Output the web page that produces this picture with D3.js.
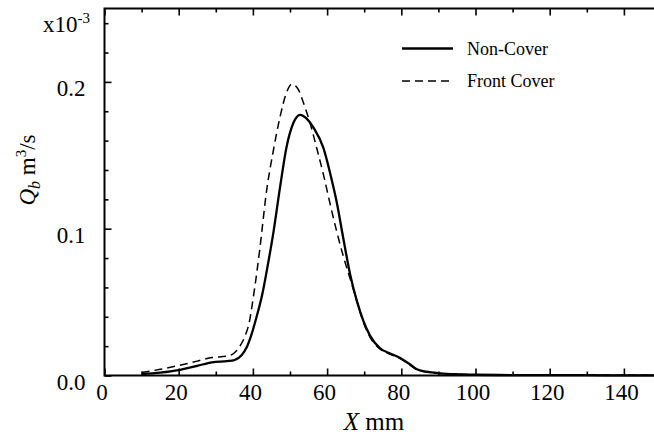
<!DOCTYPE html>
<html><head><meta charset="utf-8">
<script src="https://cdn.jsdelivr.net/npm/d3@7"></script>
<style>body{margin:0;background:#fff}svg{display:block}</style>
</head><body><svg id="c" width="654" height="434"></svg>
<script>
const xMajor = [0, 20, 40, 60, 80, 100, 120, 140];
const xMinor = [10, 30, 50, 70, 90, 110, 130, 150];
const yMajor = [0.0, 0.1, 0.2];
const yMinor = [0.02, 0.04, 0.06, 0.08, 0.12, 0.14, 0.16, 0.18, 0.22, 0.24];

const nonCoverX = [10, 15, 20, 25, 29, 33, 35, 37, 38.3, 39.5, 41, 42.5, 44, 45.5, 47.3, 49.1, 50.9, 52.7, 54.5, 56.3, 59, 60.8, 62.6, 64.4, 66.2, 68, 69.8, 71.6, 74.3, 77, 79.7, 82.4, 84.2, 86.8, 90.4, 95.8, 100, 110, 120, 130, 140, 150];
const nonCoverQ = [0.0010, 0.0020, 0.0037, 0.0066, 0.0090, 0.0098, 0.0105, 0.0140, 0.0190, 0.027, 0.040, 0.055, 0.075, 0.097, 0.128, 0.156, 0.172, 0.1776, 0.175, 0.169, 0.155, 0.138, 0.118, 0.093, 0.069, 0.051, 0.037, 0.027, 0.0185, 0.015, 0.012, 0.0075, 0.0042, 0.0026, 0.0015, 0.0008, 0.0005, 0.0003, 0.0002, 0.0002, 0.0001, 0.0001];

const frontX = [10, 15, 20, 25, 29, 33, 34.8, 36.5, 37.9, 39, 40.1, 41.9, 43.7, 45.5, 47.3, 49.1, 50.5, 52.2, 53.6, 55.4, 57.2, 59, 60.8, 62.6, 64.4, 66.2, 68, 69.8, 71.6, 74.3, 77, 79.7, 82.4, 84.2, 86.8, 90.4, 95.8, 100, 110, 120, 130, 140, 150];
const frontQ = [0.0020, 0.0042, 0.0068, 0.0098, 0.0122, 0.0132, 0.0150, 0.020, 0.027, 0.036, 0.053, 0.087, 0.126, 0.153, 0.176, 0.193, 0.1985, 0.195, 0.186, 0.172, 0.155, 0.137, 0.117, 0.098, 0.081, 0.066, 0.051, 0.036, 0.026, 0.018, 0.0145, 0.0115, 0.007, 0.004, 0.0024, 0.0014, 0.0008, 0.0005, 0.0003, 0.0002, 0.0002, 0.0001, 0.0001];

const legendLabels = ["Non-Cover", "Front Cover"];

const svg = d3.select("#c");
const font = "'Liberation Serif', 'Times New Roman', serif";
const L = 104.5, R = 661, T = 8.5, B = 375.5;
const x = d3.scaleLinear().domain([0, 150]).range([L, R]);
const y = d3.scaleLinear().domain([0, 0.25]).range([B, T]);

function styleAxis(g) {
  g.select(".domain").remove();
  g.selectAll(".tick line").attr("stroke", "#000").attr("stroke-width", 1.6);
  g.selectAll("text").attr("font-family", font).attr("fill", "#000");
}
// bottom
svg.append("g").attr("transform", `translate(0,${B})`)
  .call(d3.axisBottom(x).tickValues(xMajor).tickSize(-7).tickPadding(0).tickFormat(d3.format("d")))
  .call(styleAxis)
  .call(g => g.selectAll("text").attr("font-size", 23).attr("dy", null).attr("y", 24).attr("dx", -3));
svg.append("g").attr("transform", `translate(0,${B})`)
  .call(d3.axisBottom(x).tickValues(xMinor).tickSize(-4).tickFormat(""))
  .call(styleAxis);
// top
svg.append("g").attr("transform", `translate(0,${T})`)
  .call(d3.axisTop(x).tickValues(xMajor).tickSize(-7).tickFormat(""))
  .call(styleAxis);
svg.append("g").attr("transform", `translate(0,${T})`)
  .call(d3.axisTop(x).tickValues(xMinor).tickSize(-4).tickFormat(""))
  .call(styleAxis);
// left
svg.append("g").attr("transform", `translate(${L},0)`)
  .call(d3.axisLeft(y).tickValues(yMajor).tickSize(-7).tickPadding(19).tickFormat(d3.format(".1f")))
  .call(styleAxis)
  .call(g => g.selectAll("text").attr("font-size", 23).attr("dy", 14));
svg.append("g").attr("transform", `translate(${L},0)`)
  .call(d3.axisLeft(y).tickValues(yMinor).tickSize(-4).tickFormat(""))
  .call(styleAxis);
// right
svg.append("g").attr("transform", `translate(${R},0)`)
  .call(d3.axisRight(y).tickValues(yMajor).tickSize(-7).tickFormat(""))
  .call(styleAxis);
svg.append("g").attr("transform", `translate(${R},0)`)
  .call(d3.axisRight(y).tickValues(yMinor).tickSize(-4).tickFormat(""))
  .call(styleAxis);

// frame
svg.append("rect").attr("x", L).attr("y", T).attr("width", R - L).attr("height", B - T)
  .attr("fill", "none").attr("stroke", "#000").attr("stroke-width", 2);

// curves
const line = d3.line().x(d => x(d[0])).y(d => y(d[1])).curve(d3.curveMonotoneX);
const s1 = nonCoverX.map((v, i) => [v, nonCoverQ[i]]);
const s2 = frontX.map((v, i) => [v, frontQ[i]]);
svg.append("path").datum(s2).attr("d", line).attr("fill", "none").attr("stroke", "#000")
  .attr("stroke-width", 1.5).attr("stroke-dasharray", "8,5");
svg.append("path").datum(s1).attr("d", line).attr("fill", "none").attr("stroke", "#000")
  .attr("stroke-width", 2.3);

// legend
const leg = svg.append("g").attr("font-family", font).attr("font-size", 18);
leg.append("line").attr("x1", 402).attr("x2", 453).attr("y1", 48.5).attr("y2", 48.5)
  .attr("stroke", "#000").attr("stroke-width", 2.3);
leg.append("line").attr("x1", 402).attr("x2", 453).attr("y1", 81).attr("y2", 81)
  .attr("stroke", "#000").attr("stroke-width", 1.5).attr("stroke-dasharray", "8,5");
leg.append("text").attr("x", 467).attr("y", 54.5).text(legendLabels[0]);
leg.append("text").attr("x", 467).attr("y", 87).text(legendLabels[1]);

// multiplier label
const m = svg.append("text").attr("x", 43).attr("y", 32).attr("font-family", font).attr("font-size", 23);
m.append("tspan").text("x10");
m.append("tspan").attr("font-size", 15).attr("dy", -9).text("-3");

// x label
const xl = svg.append("text").attr("x", 374).attr("y", 430).attr("text-anchor", "middle")
  .attr("font-family", font).attr("font-size", 25);
xl.append("tspan").attr("font-style", "italic").text("X");
xl.append("tspan").text(" mm");

// y label
const yl = svg.append("text").attr("transform", "translate(35,170) rotate(-90)")
  .attr("text-anchor", "middle").attr("font-family", font).attr("font-size", 23);
yl.append("tspan").attr("font-style", "italic").text("Q");
yl.append("tspan").attr("font-style", "italic").attr("font-size", 16).attr("dy", 5).text("b");
yl.append("tspan").attr("dy", -5).text(" m");
yl.append("tspan").attr("font-size", 15).attr("dy", -9).text("3");
yl.append("tspan").attr("dy", 9).text("/s");
</script></body></html>
